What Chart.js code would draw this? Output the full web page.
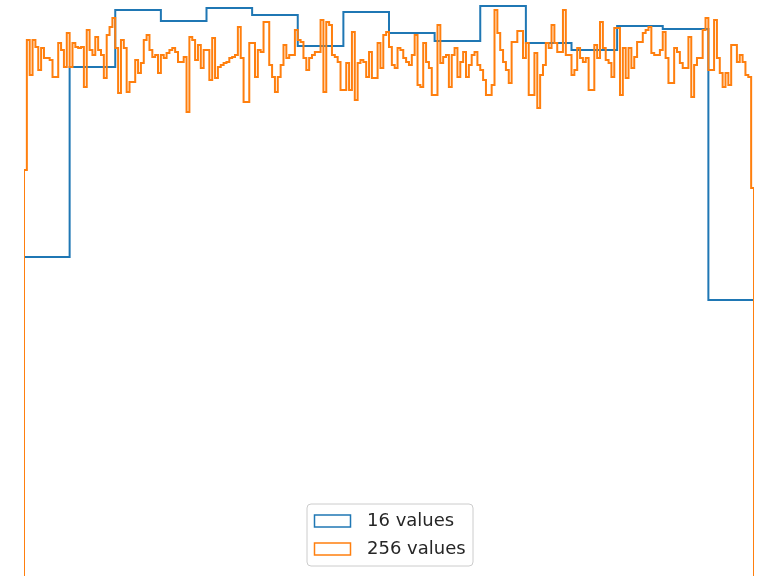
<!DOCTYPE html>
<html>
<head>
<meta charset="utf-8">
<script src="https://cdn.jsdelivr.net/npm/chart.js@4.4.0/dist/chart.umd.min.js"></script>
<style>
    html, body { margin: 0; padding: 0; background: #fff; }
    canvas { display: block; }
</style>
</head>
<body>
<canvas id="histChart" width="761" height="576"></canvas>
<script>
    // series labels
    const seriesNames = ["16 values", "256 values"];

    // density per bin, 16 equal bins over [0, 1]
    const coarseDensity = [
        0.638, 1.018, 1.132, 1.110, 1.136, 1.122, 1.060, 1.128,
        1.086, 1.070, 1.140, 1.066, 1.052, 1.100, 1.094, 0.552
    ];

    // density per bin, 256 equal bins over [0, 1]
    const fineDensity = [
        0.812, 1.072, 1.002, 1.072, 1.058, 1.012, 1.056, 1.036, 1.036, 1.032, 0.998, 0.998, 1.066, 1.052, 1.018, 1.086,
        1.018, 1.066, 1.058, 1.056, 1.058, 0.978, 1.092, 1.052, 1.042, 1.078, 1.052, 1.042, 0.996, 1.082, 1.098, 1.116,
        1.056, 0.966, 1.072, 1.056, 0.968, 0.988, 0.988, 1.032, 1.006, 1.026, 1.072, 1.082, 1.052, 1.038, 1.042, 1.006,
        1.042, 1.036, 1.046, 1.052, 1.056, 1.048, 1.028, 1.028, 1.038, 0.928, 1.078, 1.072, 1.032, 1.062, 1.016, 1.052,
        1.052, 0.992, 1.076, 0.996, 1.018, 1.022, 1.026, 1.028, 1.036, 1.038, 1.042, 1.098, 1.036, 0.948, 0.948, 1.066,
        1.066, 0.998, 1.052, 1.048, 1.108, 1.108, 1.022, 0.998, 0.968, 0.998, 1.022, 1.062, 1.036, 1.042, 1.042, 1.092,
        1.072, 1.068, 1.036, 1.012, 1.036, 1.042, 1.048, 1.048, 1.112, 0.968, 1.108, 1.102, 1.042, 1.038, 1.028, 0.972,
        0.972, 1.026, 0.972, 1.088, 0.952, 1.026, 1.032, 1.028, 0.998, 1.048, 0.996, 0.996, 1.066, 1.016, 1.082, 1.088,
        1.058, 1.022, 1.016, 1.056, 1.052, 1.036, 1.028, 1.022, 1.042, 1.082, 0.982, 0.978, 1.066, 1.028, 1.016, 0.962,
        0.962, 1.102, 1.026, 1.038, 1.042, 0.978, 1.042, 1.056, 0.998, 1.028, 1.048, 0.998, 1.022, 1.042, 1.048, 1.022,
        1.012, 0.992, 0.962, 0.962, 0.982, 1.132, 1.086, 1.052, 1.028, 1.012, 0.986, 1.068, 1.068, 1.090, 1.090, 1.036,
        1.066, 0.962, 0.962, 1.046, 0.936, 1.002, 1.022, 1.066, 1.056, 1.102, 1.066, 1.048, 1.048, 1.132, 1.042, 1.042,
        1.002, 1.012, 1.056, 1.036, 1.028, 1.036, 0.972, 0.972, 1.062, 1.036, 1.108, 1.056, 1.032, 1.026, 0.998, 1.096,
        1.096, 0.962, 1.056, 0.996, 1.056, 1.016, 1.038, 1.068, 1.068, 1.086, 1.092, 1.098, 1.046, 1.042, 1.042, 1.052,
        1.088, 1.036, 0.986, 0.986, 1.056, 1.048, 1.026, 1.016, 1.016, 1.078, 0.958, 1.022, 1.036, 1.036, 1.092, 1.116,
        1.012, 1.012, 1.112, 1.036, 1.006, 0.978, 1.006, 0.982, 1.062, 1.062, 1.028, 1.042, 1.028, 1.002, 0.998, 0.776
    ];

    const lineColors = ["#1f77b4", "#ff7f0e"];

    // outline of a step histogram: up the left edge, across every bin, down the right edge
    function stepOutline(values) {
        const n = values.length;
        const pts = [{ x: 0, y: 0 }];
        values.forEach((v, i) => {
            pts.push({ x: i / n, y: v });
            pts.push({ x: (i + 1) / n, y: v });
        });
        pts.push({ x: 1, y: 0 });
        return pts;
    }

    // legend box sitting inside the plot, bottom centre
    const boxLegend = {
        id: 'boxLegend',
        afterDatasetsDraw(chart) {
            const ctx = chart.ctx;
            const bx = 307, by = 504, bw = 166, bh = 62, r = 4;
            ctx.save();
            ctx.beginPath();
            ctx.moveTo(bx + r, by);
            ctx.arcTo(bx + bw, by, bx + bw, by + bh, r);
            ctx.arcTo(bx + bw, by + bh, bx, by + bh, r);
            ctx.arcTo(bx, by + bh, bx, by, r);
            ctx.arcTo(bx, by, bx + bw, by, r);
            ctx.closePath();
            ctx.fillStyle = 'rgba(255,255,255,0.8)';
            ctx.fill();
            ctx.strokeStyle = '#cccccc';
            ctx.lineWidth = 1;
            ctx.stroke();

            ctx.font = '18px "DejaVu Sans"';
            ctx.textBaseline = 'middle';
            ctx.textAlign = 'left';
            chart.data.datasets.forEach((ds, i) => {
                const rowY = 521 + i * 28;
                ctx.strokeStyle = ds.borderColor;
                ctx.lineWidth = 1.5;
                ctx.strokeRect(314.5, rowY - 6, 36, 12);
                ctx.fillStyle = '#262626';
                ctx.fillText(ds.label, 367, rowY + 0.5);
            });
            ctx.restore();
        }
    };

    const ctx = document.getElementById('histChart').getContext('2d');

    new Chart(ctx, {
        type: 'line',
        data: {
            datasets: [
                {
                    label: seriesNames[0],
                    data: stepOutline(coarseDensity),
                    borderColor: lineColors[0],
                    borderWidth: 2,
                    pointRadius: 0,
                    fill: false,
                    tension: 0,
                    order: 2
                },
                {
                    label: seriesNames[1],
                    data: stepOutline(fineDensity),
                    borderColor: lineColors[1],
                    borderWidth: 2,
                    pointRadius: 0,
                    fill: false,
                    tension: 0,
                    order: 1
                }
            ]
        },
        options: {
            responsive: false,
            animation: false,
            events: [],
            layout: {
                padding: { left: 24, right: 7, top: 0, bottom: 0 }
            },
            scales: {
                x: { type: 'linear', min: 0, max: 1, display: false },
                y: { type: 'linear', min: 0, max: 1.152, display: false }
            },
            plugins: {
                legend: { display: false },
                tooltip: { enabled: false }
            }
        },
        plugins: [boxLegend]
    });
</script>
</body>
</html>
